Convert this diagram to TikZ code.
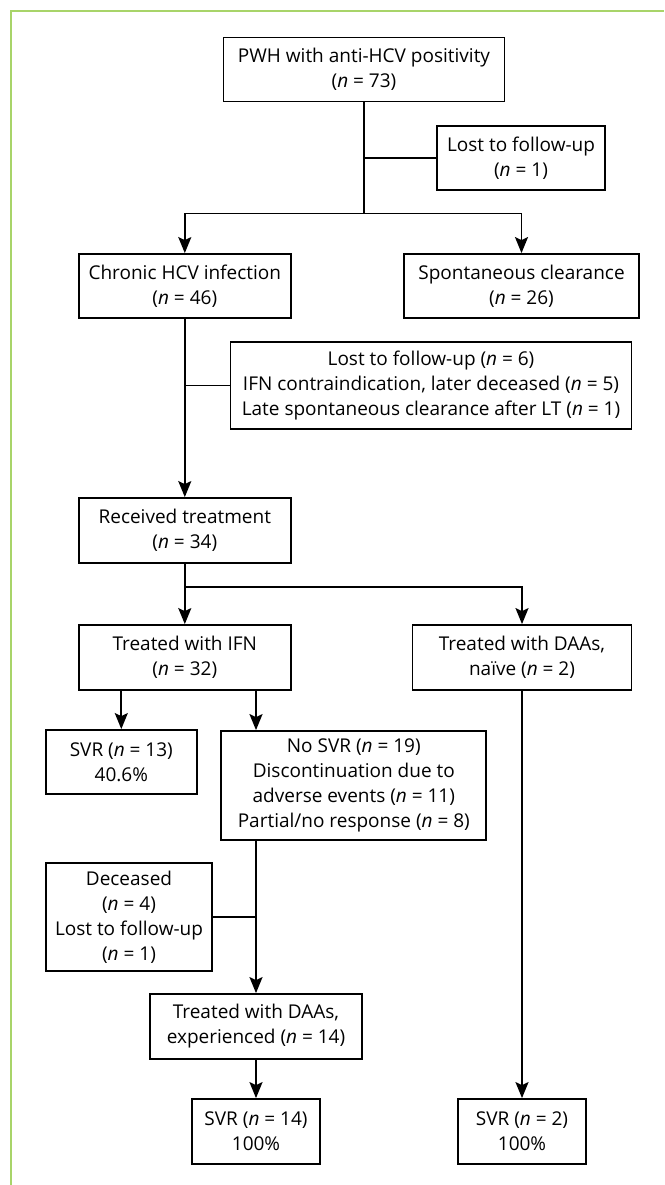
\documentclass[tikz,border=0pt]{standalone}
\usepackage{fontspec}
\setmainfont{Open Sans}
\usetikzlibrary{arrows.meta, calc, positioning}
\definecolor{framegreen}{RGB}{168,212,105}
\tikzset{
    my-box/.style={
        draw, line width=1.8pt, align=center, inner sep=0pt,
        font=\fontsize{19}{25}\selectfont
    },
    my-line/.style={
        line width=1.8pt
    },
    my-arrow/.style={
        line width=1.8pt, -{Stealth[length=16pt, width=13pt, inset=3pt]}
    },
}
\newcommand{\nn}[1]{(\textit{n} = #1)}

\begin{document}
\begin{tikzpicture}[x=1pt, y=-1pt]

        \useasboundingbox (0, 0) rectangle (664, 1185);

        % FRAME
        \draw[framegreen, line width=2.2pt] (11, 1185) -- (11, 11) -- (664, 11);

        % TOP LEVEL
        \node[my-box, minimum width=281, minimum height=64] (PWH)   at (364, 69.5) {PWH with anti-HCV positivity\\ \nn{73}};
        \node[my-box, minimum width=168, minimum height=64] (LOST1) at (521, 158)  {Lost to follow-up\\ \nn{1}};
        \coordinate (SPLIT1) at ($(PWH.south) + (0, 111)$);

        % SECOND LEVEL
        \node[my-box, minimum width=212, minimum height=64] (CHRONIC) at (184.8, 286) {Chronic HCV infection\\ \nn{46}};
        \node[my-box, minimum width=235, minimum height=64] (SPONT)   at (521.5, 286) {Spontaneous clearance\\ \nn{26}};
        \node[my-box, minimum width=401, minimum height=87] (LOST6)   at (431, 385.5) {Lost to follow-up \nn{6}\\ IFN contraindication, later deceased \nn{5}\\ Late spontaneous clearance after LT \nn{1}};

        % TREATMENT
        \node[my-box, minimum width=212, minimum height=65] (RECEIVED) at (184.8, 530.5) {Received treatment\\ \nn{34}};
        \coordinate (SPLIT2) at ($(RECEIVED.south) + (0, 23)$);
        \node[my-box, minimum width=212, minimum height=65] (IFN)      at (184.8, 657.5) {Treated with IFN\\ \nn{32}};
        \node[my-box, minimum width=219, minimum height=65] (NAIVE)    at (522, 657.5)   {Treated with DAAs,\\ naïve \nn{2}};

        % IFN OUTCOMES
        \node[my-box, minimum width=151, minimum height=64]  (SVR13)    at (121.3, 762)  {SVR \nn{13}\\ 40.6\%};
        \node[my-box, minimum width=265, minimum height=109] (NOSVR)    at (353.8, 785.5) {No SVR \nn{19}\\ Discontinuation due to\\ adverse events \nn{11}\\ Partial/no response \nn{8}};
        \node[my-box, minimum width=166, minimum height=108] (DECEASED) at (129, 917)     {Deceased\\ \nn{4}\\ Lost to follow-up\\ \nn{1}};

        % DAA OUTCOMES
        \node[my-box, minimum width=212, minimum height=65] (EXPER) at (256, 1026.5) {Treated with DAAs,\\ experienced \nn{14}};
        \node[my-box, minimum width=128, minimum height=65] (SVR14) at (256, 1131.5) {SVR \nn{14}\\ 100\%};
        \node[my-box, minimum width=128, minimum height=65] (SVR2)  at (522, 1131.5) {SVR \nn{2}\\ 100\%};

        % CONNECTIONS - TOP
        \draw[my-line]  (PWH.south) -- (SPLIT1);
        \draw[my-line]  (LOST1.west) -- (LOST1.west -| PWH.south);
        \draw[my-arrow] (SPLIT1) -| (CHRONIC.north);
        \draw[my-arrow] (SPLIT1) -| (SPONT.north);

        % CONNECTIONS - CHRONIC TO TREATMENT
        \draw[my-arrow] (CHRONIC.south) -- (RECEIVED.north);
        \draw[my-line]  (LOST6.west) -- (LOST6.west -| CHRONIC.south);
        \draw[my-line]  (RECEIVED.south) -- (SPLIT2);
        \draw[my-arrow] (SPLIT2) -- (IFN.north);
        \draw[my-arrow] (SPLIT2) -| (NAIVE.north);

        % CONNECTIONS - IFN
        \draw[my-arrow] (IFN.south -| SVR13.north) -- (SVR13.north);
        \draw[my-arrow] (IFN.south -| EXPER.north) -- (NOSVR.north -| EXPER.north);
        \draw[my-arrow] (NOSVR.south -| EXPER.north) -- (EXPER.north);
        \draw[my-line]  (DECEASED.east) -- (DECEASED.east -| EXPER.north);

        % CONNECTIONS - DAAS
        \draw[my-arrow] (EXPER.south) -- (SVR14.north);
        \draw[my-arrow] (NAIVE.south) -- (SVR2.north);

\end{tikzpicture}
\end{document}
